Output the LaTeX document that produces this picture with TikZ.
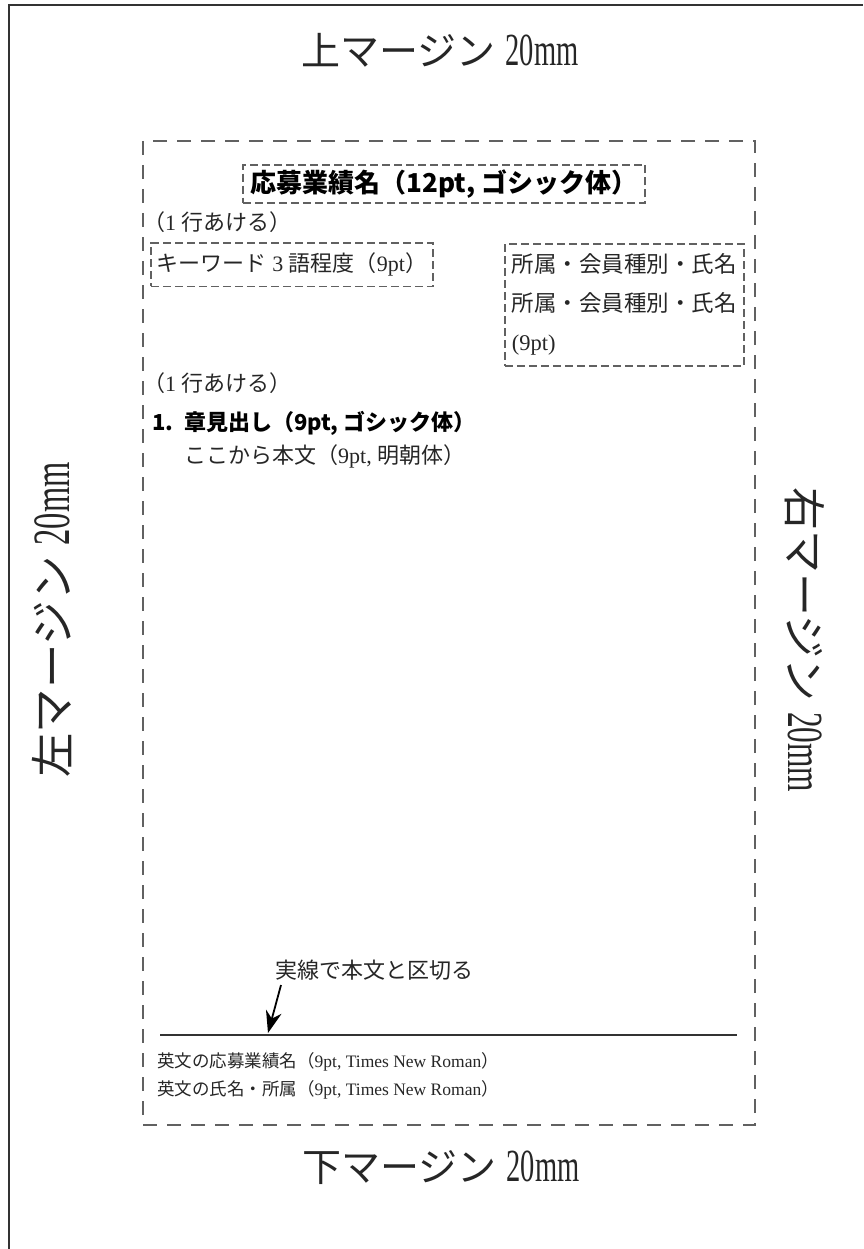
\documentclass[tikz,border=0pt]{standalone}
\usepackage{fontspec}
\setmainfont{Liberation Serif}
\newfontfamily\cjk{Noto Sans CJK JP}
\newfontfamily\narrowserif{Liberation Serif}[FakeStretch=0.62]
\usetikzlibrary{arrows.meta}
\definecolor{dashgray}{gray}{0.38}
\tikzstyle{marginlabel} = [font=\fontsize{39}{44}\selectfont, inner sep=0pt, text=black!85]
\tikzstyle{areabox} = [draw=dashgray, line width=2pt, dash pattern=on 14pt off 10pt, rectangle, inner sep=0pt]
\tikzstyle{dashbox} = [draw=dashgray, line width=1.8pt, dash pattern=on 8pt off 4pt, rectangle, inner xsep=6pt, inner ysep=10pt, anchor=north west, font=\fontsize{22}{26}\selectfont, text=black!85]
\tikzstyle{plaintext} = [font=\fontsize{22}{26}\selectfont, inner sep=0pt, anchor=west, text=black!85]
\tikzstyle{entext} = [font=\fontsize{17.5}{20}\selectfont, inner sep=0pt, anchor=west, text=black!85]
\newcommand{\mm}{{\narrowserif\fontsize{46}{50}\selectfont 20mm}}

\begin{document}
\begin{tikzpicture}[x=1pt,y=-1pt]
\useasboundingbox (0,0) rectangle (863,1249);
\draw[line width=1.3pt, black!80] (9,1249) -- (9,5) -- (863,5);

\node[marginlabel] (topm) at (440,50) {{\cjk 上マージン}\ \mm};
\node[marginlabel] (botm) at (441,1168) {{\cjk 下マージン}\ \mm};
\node[marginlabel, rotate=90, scale=1.14] (leftm) at (52,620) {{\cjk 左マージン}\ \mm};
\node[marginlabel, rotate=-90, scale=1.1] (rightm) at (805,640) {{\cjk 右マージン}\ \mm};

\node[areabox, minimum width=612pt, minimum height=984pt] (area) at (449,633) {};

\node[dashbox, anchor=center, inner xsep=8pt, inner ysep=5pt, text=black,
  font={\cjk\bfseries\fontsize{26}{30}\selectfont}] (title) at (444,184) {応募業績名（12pt, ゴシック体）};
\node[plaintext] (gapa) at (143,222) {{\cjk （}1 {\cjk 行あける）}};
\node[dashbox] (keywords) at (150,242) {{\cjk キーワード}\ 3\ {\cjk 語程度（}9pt{\cjk ）}};
\node[dashbox, align=left, inner xsep=7pt, font=\fontsize{22.5}{39}\selectfont] (affil) at (504,243) {%
  {\cjk 所属・会員種別・氏名}\\
  {\cjk 所属・会員種別・氏名}\\
  (9pt)};
\node[plaintext] (gapb) at (143,383) {{\cjk （}1 {\cjk 行あける）}};
\node[plaintext, text=black, font={\cjk\bfseries\fontsize{22}{26}\selectfont}] (chapter) at (152,423) {1.\enspace 章見出し（9pt, ゴシック体）};
\node[plaintext] (body) at (184,456) {{\cjk ここから本文（}9pt, {\cjk 明朝体）}};

\node[plaintext] (cutnote) at (275,970) {{\cjk 実線で本文と区切る}};
\coordinate (arrowtail) at (281,985);
\coordinate (arrowtip) at (268,1033);
\coordinate (rulel) at (160,1035);
\coordinate (ruler) at (737,1035);
\draw[line width=1.3pt, black!80] (rulel) -- (ruler);
\draw[line width=1.8pt, -{Stealth[length=22pt,width=16pt]}] (arrowtail) -- (arrowtip);

\node[entext] (entitle) at (157,1062) {{\cjk 英文の応募業績名（}9pt, Times New Roman{\cjk ）}};
\node[entext] (enname) at (157,1090) {{\cjk 英文の氏名・所属（}9pt, Times New Roman{\cjk ）}};
\end{tikzpicture}
\end{document}
